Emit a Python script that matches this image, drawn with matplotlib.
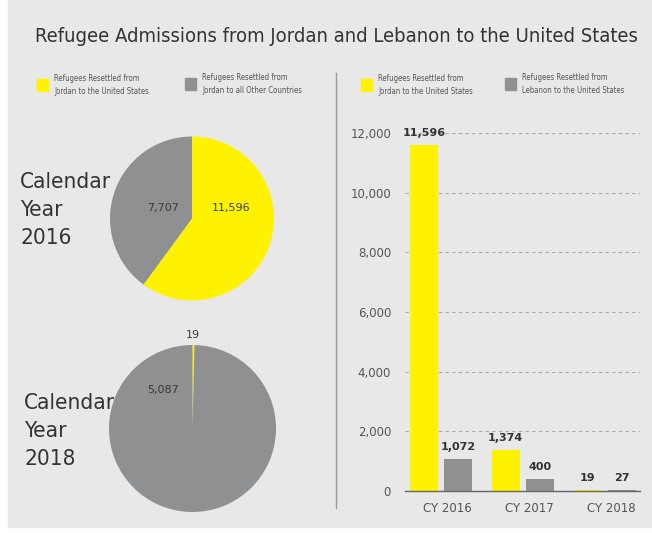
import numpy as np
import matplotlib.pyplot as plt
from matplotlib import font_manager
from matplotlib.font_manager import FontProperties
from matplotlib.patches import Rectangle
from matplotlib.lines import Line2D

# datos
pie_2016 = [11596, 7707]   # EE.UU., otros paises
pie_2018 = [19, 5087]
pie_labels_2016 = ["11,596", "7,707"]
pie_labels_2018 = ["19", "5,087"]

years = ["CY 2016", "CY 2017", "CY 2018"]
jordan_us = [11596, 1374, 19]
lebanon_us = [1072, 400, 27]

yellow = "#fff200"
gray = "#8f9092"
bg = "#e8e8e8"
dark = "#333333"

# buscamos una fuente estrecha (condensed / narrow) si existe
cands = [f for f in font_manager.fontManager.ttflist
         if ("narrow" in f.name.lower() or "condensed" in f.name.lower()
             or "condensed" in str(f.stretch).lower())
         and f.style == "normal" and f.weight in (400, "normal", "regular")]
cands.sort(key=lambda f: (0 if "Liberation" in f.name else 1 if "DejaVu" in f.name else 2))
if cands:
    narrow = FontProperties(fname=cands[0].fname)
    scale = 1.0
else:
    narrow = FontProperties(family="Roboto")
    scale = 0.88

W, H = 652, 533
fig = plt.figure(figsize=(W / 100, H / 100), dpi=100)
fig.patch.set_facecolor("white")

def px(x0, y0, w, h):
    # caja en pixeles (origen arriba a la izquierda) -> coordenadas de figura
    return [x0 / W, 1 - (y0 + h) / H, w / W, h / H]

def ftext(x, y, s, size, **kw):
    fp = narrow.copy()
    fp.set_size(size * scale)
    return fig.text(x / W, 1 - y / H, s, fontproperties=fp, **kw)

fig.patches.append(Rectangle((8 / W, 1 - 527 / H), 1, 527 / H,
                             transform=fig.transFigure, color=bg, zorder=-10))

t = ftext(35, 37, "Refugee Admissions from Jordan and Lebanon to the United States",
          16.5, color=dark, va="center", ha="left")
# ajustar el ancho del titulo a ~602 px
fig.canvas.draw()
tw = t.get_window_extent().width
t.set_fontsize(t.get_fontsize() * 602 / tw)

# linea divisoria
fig.add_artist(Line2D([336 / W, 336 / W], [1 - 73 / H, 1 - 508 / H],
                      transform=fig.transFigure, color="#9a9a9a", lw=1))

# leyendas
def legend_item(x, y, color, txt):
    fig.patches.append(Rectangle((x / W, 1 - (y + 6) / H), 11 / W, 12 / H,
                                 transform=fig.transFigure, color=color))
    ftext(x + 17, y, txt, 5.6, color="#555555", va="center", ha="left", linespacing=1.5)

legend_item(37, 85, yellow, "Refugees Resettled from\nJordan to the United States")
legend_item(185, 84, gray, "Refugees Resettled from\nJordan to all Other Countries")
legend_item(361, 85, yellow, "Refugees Resettled from\nJordan to the United States")
legend_item(505, 84, gray, "Refugees Resettled from\nLebanon to the United States")

# tortas
def draw_pie(cx, cy, r, vals, labels, label_pos):
    ax = fig.add_axes(px(cx - r, cy - r, 2 * r, 2 * r))
    ax.pie(vals, colors=[yellow, gray], startangle=90, counterclock=False,
           wedgeprops=dict(linewidth=0))
    ax.set_xlim(-1, 1)
    ax.set_ylim(-1, 1)
    for lab, (lx, ly) in zip(labels, label_pos):
        ax.text(lx, ly, lab, fontsize=8, color="#3a3a3a", ha="center", va="center",
                clip_on=False)
    return ax

draw_pie(192, 218.5, 82, pie_2016, pie_labels_2016, [(0.48, 0.13), (-0.35, 0.13)])
draw_pie(192.5, 428.5, 83.5, pie_2018, pie_labels_2018, [(0.0, 1.12), (-0.35, 0.46)])

for x0, y0, yr in [(20, 210, "2016"), (24, 431, "2018")]:
    c = ftext(x0, y0, "Calendar\nYear\n" + yr, 18.5, color=dark, va="center",
              ha="left", linespacing=1.5)
    fig.canvas.draw()
    cw = c.get_window_extent().width
    c.set_fontsize(c.get_fontsize() * 91 / cw)

# barras
ax = fig.add_axes(px(405, 133, 235, 358))
ax.set_facecolor("none")
x = np.arange(len(years))
w = 0.34
b1 = ax.bar(x - 0.21, jordan_us, w, color=yellow)
b2 = ax.bar(x + 0.21, lebanon_us, w, color=gray)
for bars, vals in [(b1, jordan_us), (b2, lebanon_us)]:
    for b, v in zip(bars, vals):
        ax.text(b.get_x() + b.get_width() / 2, v + 250, f"{v:,}", ha="center", va="bottom",
                fontsize=8, fontweight="bold", color=dark)
ax.set_xlim(-0.44, 2.43)
ax.set_ylim(0, 12000)
ax.set_yticks(np.arange(0, 12001, 2000))
ax.set_yticklabels([f"{v:,}" for v in range(0, 12001, 2000)])
ax.set_xticks(x + 0.08)
ax.set_xticklabels(years)
ax.tick_params(length=0, labelsize=8.5, labelcolor="#555555")
ax.tick_params(axis="y", pad=10)
ax.tick_params(axis="x", pad=8)
ax.grid(axis="y", linestyle=(0, (3, 3)), color="#a8a8a8", lw=0.8)
ax.set_axisbelow(True)
for s in ["top", "right", "left"]:
    ax.spines[s].set_visible(False)
ax.spines["bottom"].set_color("#666666")
ax.spines["bottom"].set_linewidth(1)

fig.savefig("out.png", dpi=100)
